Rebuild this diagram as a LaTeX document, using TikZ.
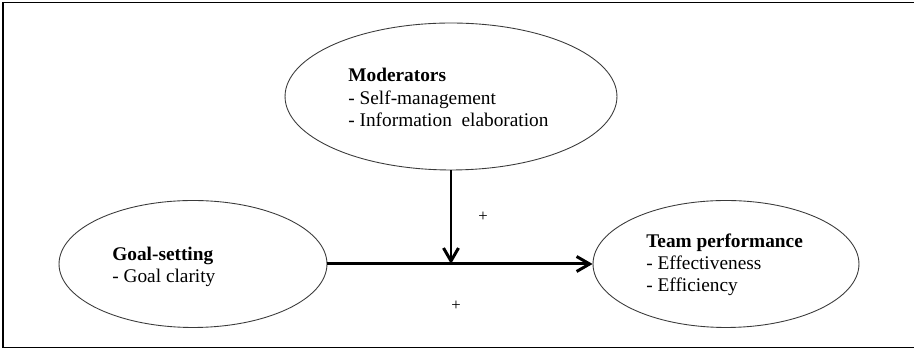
\documentclass[tikz,border=0pt]{standalone}
\usepackage{fontspec}
\setmainfont{Liberation Serif}
\usetikzlibrary{shapes.geometric,arrows.meta}
\definecolor{ovalgray}{HTML}{3A3A3A}

\begin{document}
\begin{tikzpicture}[x=0.02cm,y=-0.02cm,
  oval/.style={draw=ovalgray, line width=0.5pt, ellipse, inner sep=0pt},
  txt/.style={anchor=base west, align=left, inner sep=0pt, font=\fontsize{11}{12.75}\selectfont},
  sign/.style={inner sep=0pt, font=\fontsize{9.5}{10}\selectfont},
  link/.style={line width=1.7pt, -{Straight Barb[length=2.6mm,width=3mm]}}]
\useasboundingbox (0,0) rectangle (914,350);
\draw[line width=0.85pt] (3,2.5) rectangle (930,347.5);
% ovals
\node[oval, minimum width=6.64cm, minimum height=2.94cm] (mod) at (451,96.5) {};
\node[oval, minimum width=5.36cm, minimum height=2.54cm] (goal) at (193,264) {};
\node[oval, minimum width=5.32cm, minimum height=2.54cm] (perf) at (726,264) {};
% texts (anchored at the last line)
\node[txt] (modtext) at (348,126.7) {\textbf{Moderators}\\- Self-management\\- Information\ \ elaboration};
\node[txt] (goaltext) at (112,283) {\textbf{Goal-setting}\\- Goal clarity};
\node[txt] (perftext) at (646,292) {\textbf{Team performance}\\- Effectiveness\\- Efficiency};
% arrows
\coordinate (junc) at (mod.south |- goal.east);
\draw[link] (goal.east) -- (perf.west);
\draw[link] (mod.south) -- (junc);
\node[sign] (plusa) at (483,217) {+};
\node[sign] (plusb) at (456,306) {+};
\end{tikzpicture}
\end{document}
